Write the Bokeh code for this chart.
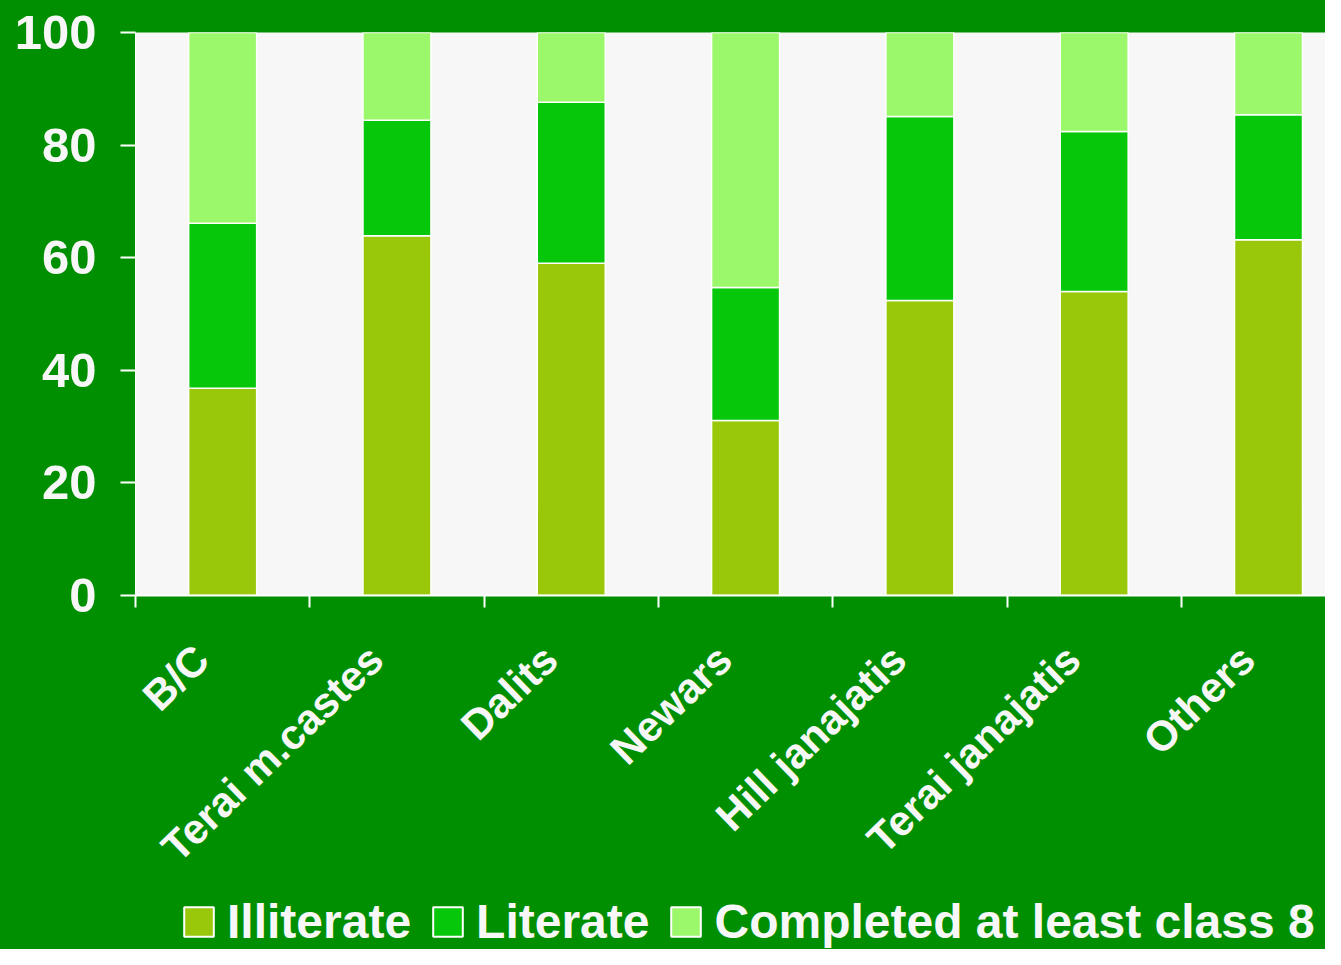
from bokeh.plotting import figure
from bokeh.layouts import column
from bokeh.models import ColumnDataSource, Range1d, FixedTicker, Legend, LegendItem
from bokeh.embed import file_html
from bokeh.resources import INLINE

categories = ["B/C", "Terai m.castes", "Dalits", "Newars", "Hill janajatis", "Terai janajatis", "Others"]
illiterate = [36.8, 63.9, 59.0, 31.1, 52.4, 54.0, 63.2]
literate = [29.3, 20.5, 28.6, 23.6, 32.7, 28.4, 22.2]
completed = [33.9, 15.6, 12.4, 45.3, 14.9, 17.6, 14.6]
series_names = ["Illiterate", "Literate", "Completed at least class 8"]
y_ticks = [0, 20, 40, 60, 80, 100]

colors = ["#99c80a", "#07c70a", "#9cf86b"]
FONT = "Liberation Sans"
WHITE = "#f7f7f7"
BORDER = "#008f00"

xs = [i + 0.5 for i in range(len(categories))]
label_pos = [x - 0.12 for x in xs]
src = ColumnDataSource(dict(x=xs, illiterate=illiterate, literate=literate, completed=completed))

W = 1325
H1 = 890
H2 = 59

p = figure(width=W, height=H1, output_backend="svg", toolbar_location=None,
           x_range=Range1d(0, 6.827), y_range=Range1d(0, 100),
           min_border_left=135, min_border_right=0, min_border_top=32, min_border_bottom=H1 - 595)

p.background_fill_color = "#f7f7f7"
p.border_fill_color = BORDER
p.outline_line_color = None
p.grid.grid_line_color = None

p.vbar_stack(["illiterate", "literate", "completed"], x="x", width=0.39, source=src,
             fill_color=colors, line_color="white", line_width=1.5)

# y axis
ya = p.yaxis[0]
ya.ticker = FixedTicker(ticks=y_ticks)
ya.axis_line_color = "white"
ya.major_tick_line_color = "white"
ya.major_tick_line_width = 2
ya.major_tick_out = 15
ya.major_tick_in = 0
ya.minor_tick_line_color = None
ya.major_label_text_font = FONT
ya.major_label_text_font_style = "bold"
ya.major_label_text_font_size = "49px"
ya.major_label_text_color = WHITE
ya.major_label_standoff = 24

# x axis
xa = p.xaxis[0]
xa.ticker = FixedTicker(ticks=label_pos, minor_ticks=list(range(len(categories) + 1)))
overrides = {}
for x, c in zip(label_pos, categories):
    overrides[x] = c
    overrides[str(x)] = c
xa.major_label_overrides = overrides
xa.axis_line_color = "white"
xa.axis_line_width = 2
xa.major_tick_line_color = None
xa.major_tick_out = 0
xa.major_tick_in = 0
xa.minor_tick_line_color = "white"
xa.minor_tick_line_width = 2
xa.minor_tick_out = 12
xa.minor_tick_in = 0
xa.major_label_orientation = 0.77
xa.major_label_text_font = FONT
xa.major_label_text_font_style = "bold"
xa.major_label_text_font_size = "42px"
xa.major_label_text_color = WHITE
xa.major_label_standoff = 45

# legend strip (transparent figure on the green layout background)
p2 = figure(width=W, height=H2, output_backend="svg", toolbar_location=None,
            x_range=Range1d(0, 1), y_range=Range1d(0, 1),
            min_border_left=135, min_border_right=0, min_border_top=0, min_border_bottom=0,
            x_axis_location=None, y_axis_location=None)
p2.background_fill_alpha = 0
p2.border_fill_alpha = 0
p2.outline_line_color = None
p2.grid.grid_line_color = None

items = []
for name, c, vals in zip(series_names, colors, [illiterate, literate, completed]):
    r = p2.vbar(x=xs, top=vals, width=0.39, fill_color=c, line_color="white", line_width=2,
                visible=False)
    items.append(LegendItem(label=name, renderers=[r]))

lg = Legend(items=items, orientation="horizontal", location=(45, 0))
lg.background_fill_alpha = 0
lg.border_line_color = None
lg.padding = 0
lg.margin = 0
lg.spacing = 18
lg.glyph_width = 37
lg.glyph_height = 37
lg.label_standoff = 10
lg.label_text_font = FONT
lg.label_text_font_style = "bold"
lg.label_text_font_size = "48px"
lg.label_text_color = WHITE
lg.label_text_baseline = "middle"
p2.add_layout(lg, "center")

layout = column(p, p2, spacing=0, styles={"background-color": BORDER})
open("out.html", "w").write(file_html(layout, INLINE))
